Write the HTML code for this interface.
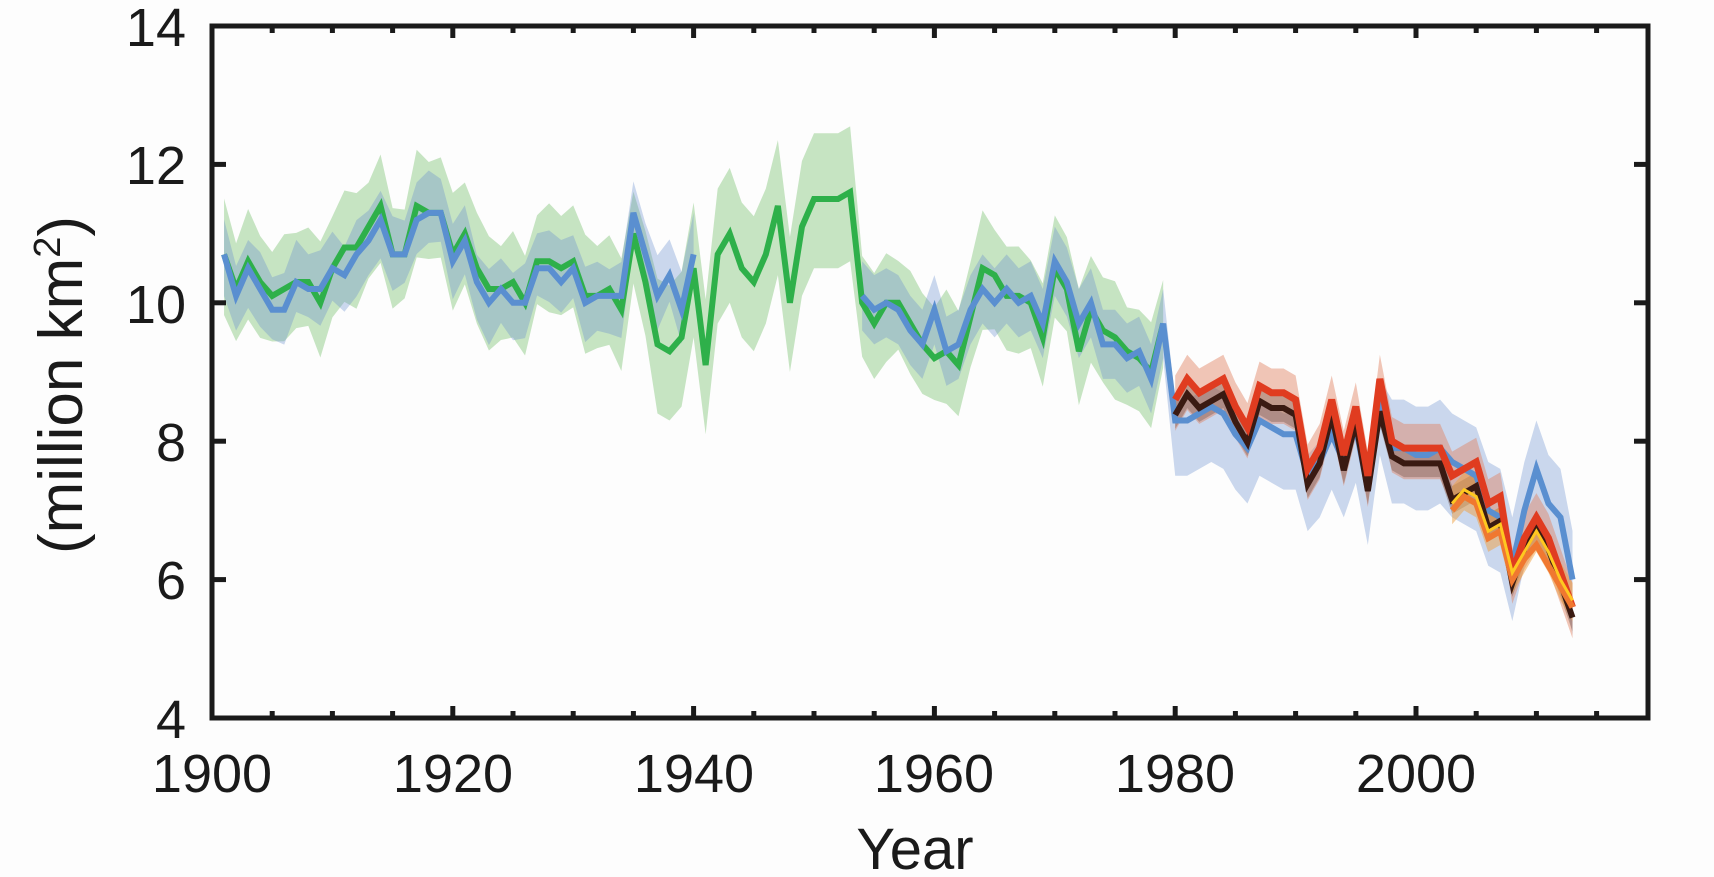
<!DOCTYPE html>
<html><head><meta charset="utf-8"><style>
html,body{margin:0;padding:0;background:#fdfdfd;}
svg{display:block;}
text{font-family:"Liberation Sans",sans-serif;fill:#1a1a1a;}
</style></head><body>
<svg id="s" width="1714" height="877" viewBox="0 0 1714 877" xmlns="http://www.w3.org/2000/svg">
<rect width="1714" height="877" fill="#fdfdfd"/>
<g id="d"></g>
<rect x="212" y="26" width="1436" height="692" fill="none" stroke="#1a1a1a" stroke-width="5"/>
<g id="t"></g>
<g font-size="54" text-anchor="end">
<text x="186" y="46">14</text><text x="186" y="184">12</text><text x="186" y="323">10</text>
<text x="186" y="461">8</text><text x="186" y="599">6</text><text x="186" y="738">4</text>
</g>
<g font-size="54" text-anchor="middle">
<text x="212" y="792">1900</text><text x="453" y="792">1920</text><text x="694" y="792">1940</text>
<text x="934" y="792">1960</text><text x="1175" y="792">1980</text><text x="1416" y="792">2000</text>
</g>
<text x="915" y="869" font-size="58" text-anchor="middle">Year</text>
<text transform="translate(82,385) rotate(-90)" font-size="62" text-anchor="middle">(million km<tspan font-size="38" dy="-22">2</tspan><tspan dy="22">)</tspan></text>
</svg>
<script>
var X=function(y){return 212+(y-1900)*12.04;},Y=function(v){return 26+(14-v)*69.2;};
var NS="http://www.w3.org/2000/svg",d=document.getElementById('d'),t=document.getElementById('t');
function el(n,a,p){var e=document.createElementNS(NS,n);for(var k in a)e.setAttribute(k,a[k]);(p||d).appendChild(e);return e;}
function ser(y0,vals){return vals.map(function(v,i){return [y0+i,v];});}
function line(s,c,w){el('polyline',{points:s.map(function(p){return X(p[0])+','+Y(p[1]);}).join(' '),fill:'none',stroke:c,'stroke-width':w,'stroke-linejoin':'miter'});}
function band(s,lo,hi,c,o){var up=s.map(function(p,i){return X(p[0])+','+Y(p[1]+hi(i,p));});var dn=s.slice().reverse().map(function(p,i){var j=s.length-1-i;return X(p[0])+','+Y(p[1]-lo(j,p));});el('polygon',{points:up.concat(dn).join(' '),fill:c,'fill-opacity':o});}
function jit(i,b,a){return b+a*Math.sin(i*2.3+1)*Math.cos(i*1.7);}
var G=ser(1901,[10.7,10.2,10.6,10.3,10.1,10.2,10.3,10.3,10.0,10.5,10.8,10.8,11.1,11.4,10.7,10.7,11.4,11.3,11.3,10.7,11.0,10.5,10.2,10.2,10.3,10.0,10.6,10.6,10.5,10.6,10.1,10.1,10.2,9.9,11.0,10.3,9.4,9.3,9.5,10.5,9.1,10.7,11.0,10.5,10.3,10.7,11.4,10.0,11.1,11.5,11.5,11.5,11.6,10.0,9.7,10.0,10.0,9.7,9.4,9.2,9.3,9.1,9.8,10.5,10.4,10.1,10.1,10.0,9.5,10.5,10.2,9.3,9.9,9.6,9.5,9.3,9.2,9.0,9.7]);
var B1=ser(1901,[10.7,10.1,10.5,10.2,9.9,9.9,10.3,10.2,10.2,10.5,10.4,10.7,10.9,11.2,10.7,10.7,11.2,11.3,11.3,10.6,10.9,10.3,10.0,10.2,10.0,10.0,10.5,10.5,10.3,10.5,10.0,10.1,10.1,10.1,11.3,10.7,10.1,10.4,9.9,10.7]);
var B2=ser(1954,[10.1,9.9,10.0,9.9,9.6,9.4,9.9,9.3,9.4,9.9,10.2,10.0,10.2,10.0,10.1,9.7,10.6,10.3,9.7,10.0,9.4,9.4,9.2,9.3,8.9,9.7,8.3,8.3,8.4,8.5,8.4,8.1,7.9,8.3,8.2,8.1,8.1,7.5,7.7,8.1,7.7,8.2,7.3,8.6,7.9,7.9,7.8,7.8,7.9,7.7,7.6,7.5,7.0,6.9,6.2,7.0,7.6,7.1,6.9,6.0]);
var R=ser(1980,[8.6,8.9,8.7,8.8,8.9,8.5,8.2,8.8,8.7,8.7,8.6,7.6,7.9,8.6,7.8,8.5,7.5,8.9,8.0,7.9,7.9,7.9,7.9,7.5,7.6,7.7,7.1,7.2,6.1,6.6,6.9,6.6,6.1,5.6]);
var K=R.map(function(p,i){return [p[0],p[1]-(p[0]<2003?0.22:(p[0]<2008?0.35:0.15))+(p[0]==1997?-0.25:0)];});
var Yl=ser(2003,[7.1,7.3,7.2,6.7,6.8,6.1,6.4,6.7,6.4,6.0,5.7]);
var O=ser(2003,[7.0,7.2,7.1,6.6,6.7,6.0,6.3,6.5,6.2,5.9,5.6]);
band(G,function(i,p){return p[0]>1936&&p[0]<1954?1.0:jit(i,0.75,0.15);},function(i,p){return p[0]>1936&&p[0]<1954?0.95:jit(i+3,0.75,0.15);},'#90cc88',0.5);
band(B1,function(i){return jit(i,0.5,0.12);},function(i){return jit(i+5,0.5,0.12);},'#6a8fcf',0.35);
band(B2,function(i,p){return p[0]>=1980?0.8:0.5;},function(i,p){return p[0]>=1980?(p[0]>1997?0.7:0.3):0.5;},'#6a8fcf',0.35);
band(R,function(i){return 0.45;},function(i){return 0.35;},'#e08060',0.45);
band(K,function(i){return 0.2;},function(i){return 0.2;},'#6a4a40',0.35);
band(Yl,function(i){return 0.3;},function(i){return 0.25;},'#f0a040',0.5);
line(G,'#2eb04a',6);line(B1,'#5a8fd0',6);line(B2,'#5a8fd0',6);
line(K,'#3a1a12',6);line(R,'#e03c20',7);line(O,'#f07830',6);line(Yl,'#ffc820',3);
for(var y=1900;y<=2015;y+=5){var L=(y%20==0)?12:7;el('line',{x1:X(y),x2:X(y),y1:718,y2:718-L,stroke:'#1a1a1a','stroke-width':5},t);el('line',{x1:X(y),x2:X(y),y1:26,y2:26+L,stroke:'#1a1a1a','stroke-width':5},t);}
for(var v=4;v<=14;v+=2){el('line',{x1:212,x2:226,y1:Y(v),y2:Y(v),stroke:'#1a1a1a','stroke-width':5},t);el('line',{x1:1634,x2:1648,y1:Y(v),y2:Y(v),stroke:'#1a1a1a','stroke-width':5},t);}
</script>
</body></html>
